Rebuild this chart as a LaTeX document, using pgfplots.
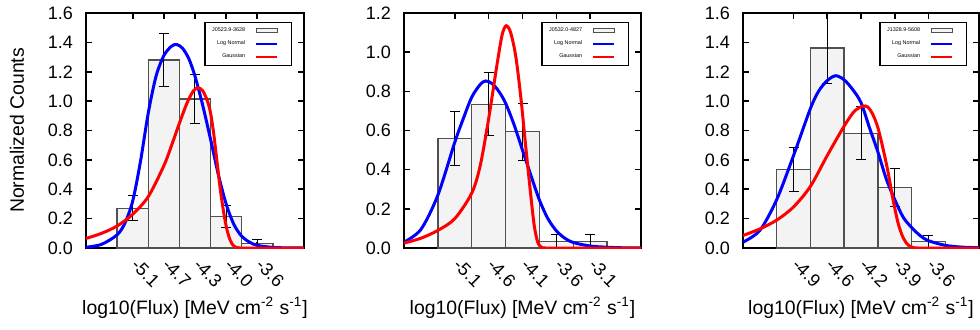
\documentclass[border=0pt]{standalone}
\usepackage{fontspec}
\setmainfont{Liberation Sans}
\usepackage{pgfplots}
\pgfplotsset{compat=1.18}
\definecolor{barfill}{HTML}{F3F3F3}
\definecolor{baredge}{HTML}{505050}
\pgfplotsset{
  panel/.style={
    scale only axis, anchor=south west, height=117.5pt,
    xmin=0, xmax=7, ymin=0,
    xtick={1.5,2.5,3.5,4.5,5.5},
    tick align=inside, major tick length=3pt,
    axis line style={line width=0.9pt},
    every tick/.style={black, line width=0.8pt},
    tick label style={font=\fontsize{9}{10}\selectfont},
    xticklabel style={yshift=-4.5pt, xshift=-1.5pt, rotate=-45, anchor=west},
    yticklabel style={xshift=-3pt},
    label style={font=\fontsize{9.7}{11}\selectfont},
    xlabel={log10(Flux) [MeV cm\textsuperscript{-2} s\textsuperscript{-1}]},
    xlabel style={at={(axis description cs:0.5,-0.281)}, anchor=base},
    clip mode=individual,
    legend plot pos=right,
    legend cell align=right,
    legend style={at={(1,1)}, anchor=north east, xshift=-6pt, yshift=-4.5pt,
      font=\fontsize{2.7}{3.2}\selectfont, draw=black, line width=0.6pt,
      inner xsep=1.5pt, inner ysep=0.5pt, row sep=-0.9pt, column sep=3pt},
  },
  barlegend/.style={legend image code/.code={
    \draw[fill=barfill, draw=baredge, line width=0.5pt] (0pt,-1pt) rectangle (10.5pt,1pt);
    \path[draw=none, fill=none] (0pt,0pt) -- (16pt,0pt);}},
  bars/.style={barlegend, ybar, bar width=1, bar shift=0pt, fill=barfill, draw=baredge, line width=0.7pt,
    error bars/y dir=both, error bars/y explicit,
    error bars/error bar style={black, line width=0.5pt},
    error bars/error mark options={rotate=90, mark size=2.5pt, black, line width=0.5pt}},
  curvelegend/.style={legend image code/.code={
    \draw[##1, line width=1.3pt] (0pt,0pt) -- (10.5pt,0pt);
    \path[draw=none, fill=none] (0pt,0pt) -- (16pt,0pt);}},
  lnorm/.style={blue, line width=1.5pt, smooth, curvelegend},
  gauss/.style={red, line width=1.5pt, smooth, curvelegend},
}
\begin{document}
\begin{tikzpicture}[x=1pt,y=1pt]
% ---------------- Panel 1
\begin{axis}[panel, at={(43pt,40.5pt)}, width=109pt, ymax=1.6,
  ytick={0,0.2,...,1.6}, yticklabels={0.0,0.2,0.4,0.6,0.8,1.0,1.2,1.4,1.6},
  xticklabels={-5.1,-4.7,-4.3,-4.0,-3.6},
  ylabel={Normalized Counts},
  ylabel style={at={(axis description cs:-0.3165,0.5)}, anchor=center}]
\addplot[bars] coordinates {
  (1.5,0.27) +- (0,0.085)
  (2.5,1.28) +- (0,0.18)
  (3.5,1.015) +- (0,0.165)
  (4.5,0.216) +- (0,0.075)
  (5.5,0.03) +- (0,0.03)
};
\addlegendentry{J0523.9-3628}
\addplot[lnorm] coordinates {
  (0,0.005) (0.5,0.025) (1.0,0.09) (1.25,0.17) (1.5,0.32) (1.75,0.59) (2.0,0.92)
  (2.25,1.17) (2.5,1.31) (2.75,1.375) (2.92,1.385) (3.1,1.36) (3.3,1.29)
  (3.5,1.17) (3.75,0.97) (4.0,0.74) (4.25,0.50) (4.5,0.30) (4.75,0.16)
  (5.0,0.08) (5.25,0.04) (5.5,0.018) (6.0,0.004) (6.5,0.001) (7,0)
};
\addlegendentry{Log Normal}
\addplot[gauss] coordinates {
  (0,0.065) (0.5,0.10) (1.0,0.15) (1.5,0.23) (2.0,0.35) (2.5,0.56) (2.75,0.70)
  (3.0,0.85) (3.25,0.99) (3.45,1.07) (3.6,1.09) (3.75,1.07) (3.9,1.00)
  (4.0,0.92) (4.1,0.78) (4.2,0.60) (4.3,0.42) (4.4,0.27) (4.5,0.15)
  (4.6,0.07) (4.7,0.025) (4.8,0.006) (4.9,0.001) (5.0,0) (6,0) (7,0)
};
\addlegendentry{Gaussian}
\end{axis}
% ---------------- Panel 2
\begin{axis}[panel, at={(202pt,40.5pt)}, width=118.5pt, ymax=1.2,
  ytick={0,0.2,...,1.2}, yticklabels={0.0,0.2,0.4,0.6,0.8,1.0,1.2},
  xticklabels={-5.1,-4.6,-4.1,-3.6,-3.1}]
\addplot[bars] coordinates {
  (1.5,0.56) +- (0,0.138)
  (2.5,0.734) +- (0,0.162)
  (3.5,0.594) +- (0,0.145)
  (4.5,0.034) +- (0,0.034)
  (5.5,0.034) +- (0,0.034)
};
\addlegendentry{J0532.0-4827}
\addplot[lnorm] coordinates {
  (0,0.03) (0.5,0.095) (1.0,0.27) (1.5,0.54) (1.75,0.66) (2.0,0.77) (2.25,0.835)
  (2.41,0.853) (2.6,0.84) (2.8,0.80) (3.0,0.74) (3.25,0.63) (3.5,0.50)
  (3.75,0.37) (4.0,0.245) (4.25,0.15) (4.5,0.088) (4.75,0.05) (5.0,0.028)
  (5.5,0.01) (6.0,0.004) (6.5,0.001) (7,0)
};
\addlegendentry{Log Normal}
\addplot[gauss] coordinates {
  (0,0.025) (0.5,0.05) (1.0,0.09) (1.5,0.15) (2.0,0.28) (2.25,0.42) (2.5,0.66)
  (2.75,0.94) (2.9,1.09) (3.02,1.135) (3.15,1.10) (3.3,0.98) (3.45,0.77)
  (3.6,0.51) (3.75,0.26) (3.85,0.11) (3.95,0.03) (4.05,0.005) (4.2,0) (5,0) (6,0) (7,0)
};
\addlegendentry{Gaussian}
\end{axis}
% ---------------- Panel 3
\begin{axis}[panel, at={(371.5pt,40.5pt)}, width=118pt, ymax=1.6,
  ytick={0,0.2,...,1.6}, yticklabels={0.0,0.2,0.4,0.6,0.8,1.0,1.2,1.4,1.6},
  xticklabels={-4.9,-4.6,-4.2,-3.9,-3.6}]
\addplot[bars] coordinates {
  (1.5,0.535) +- (0,0.15)
  (2.5,1.362) +- (0,0.24)
  (3.5,0.781) +- (0,0.18)
  (4.5,0.41) +- (0,0.13)
  (5.5,0.046) +- (0,0.04)
};
\addlegendentry{J1328.9-5608}
\addplot[lnorm] coordinates {
  (0,0.04) (0.5,0.12) (1.0,0.33) (1.5,0.63) (2.0,0.95) (2.25,1.07) (2.5,1.14)
  (2.75,1.173) (3.0,1.145) (3.25,1.08) (3.5,0.99) (3.75,0.82) (4.0,0.655)
  (4.25,0.47) (4.5,0.33) (4.75,0.21) (5.0,0.14) (5.25,0.085) (5.5,0.05)
  (6.0,0.018) (6.5,0.006) (7,0.002)
};
\addlegendentry{Log Normal}
\addplot[gauss] coordinates {
  (0,0.085) (0.5,0.13) (1.0,0.19) (1.5,0.28) (2.0,0.42) (2.5,0.63) (3.0,0.83)
  (3.3,0.93) (3.55,0.965) (3.7,0.96) (3.85,0.91) (4.0,0.82) (4.15,0.68)
  (4.3,0.52) (4.45,0.33) (4.6,0.17) (4.75,0.07) (4.9,0.02) (5.05,0.003)
  (5.2,0) (6,0) (7,0)
};
\addlegendentry{Gaussian}
\end{axis}
\pgfresetboundingbox
\useasboundingbox (0,0) rectangle (490pt,164.5pt);
\end{tikzpicture}
\end{document}
